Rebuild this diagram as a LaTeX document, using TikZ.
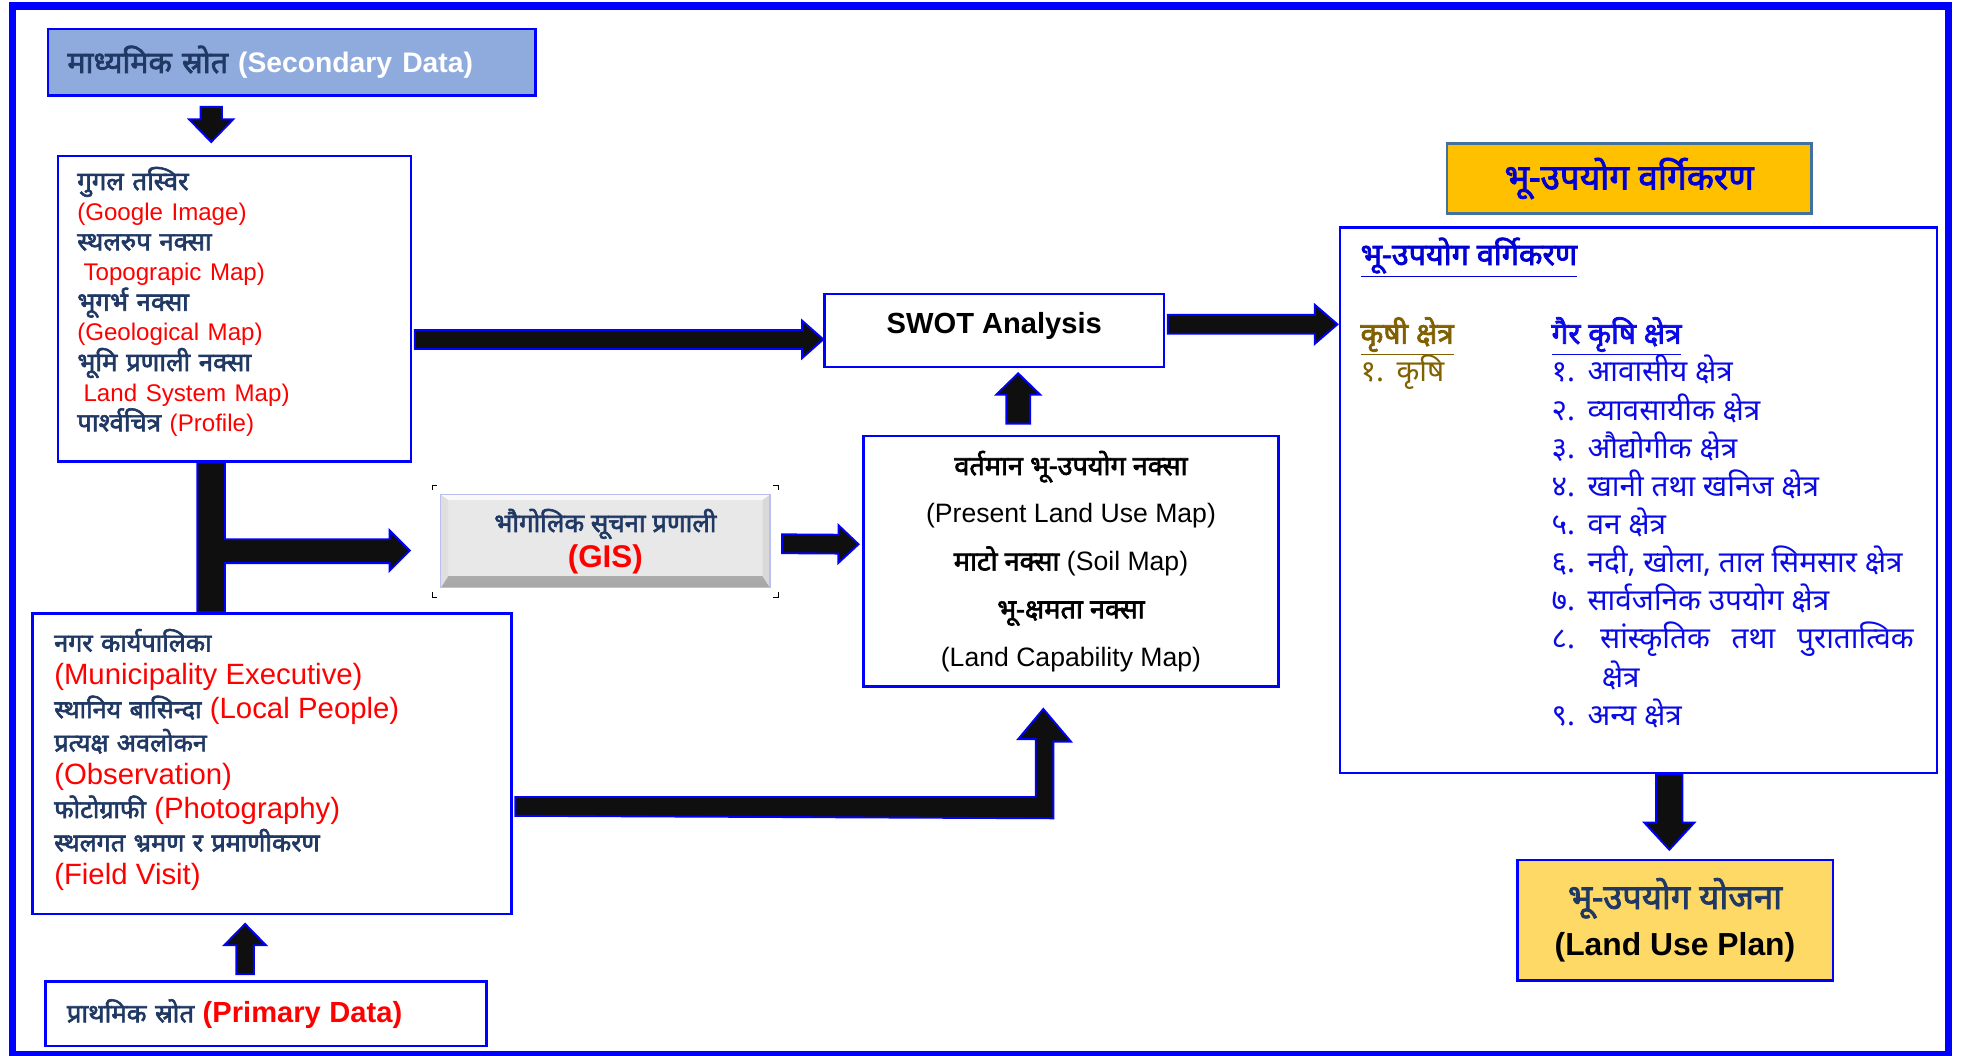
\documentclass[tikz,border=0pt]{standalone}
\usepackage{fontspec}
\setmainfont{Liberation Sans}
\newfontfamily\nep[Script=Devanagari]{Noto Sans}
\newfontfamily\nepbf[Script=Devanagari, FakeBold=2.4]{Noto Sans}
\usetikzlibrary{calc}

\definecolor{frameblue}{RGB}{0,0,255}
\definecolor{navytext}{RGB}{31,56,100}
\definecolor{secfill}{RGB}{143,170,220}
\definecolor{goldfill}{RGB}{255,192,0}
\definecolor{planfill}{RGB}{255,217,102}
\definecolor{steelline}{RGB}{65,113,156}
\definecolor{olivetext}{RGB}{128,96,0}
\definecolor{listblue}{RGB}{10,10,230}
\definecolor{titleblue}{RGB}{0,0,210}
\definecolor{arrowfill}{RGB}{15,15,15}
\definecolor{gisface}{RGB}{232,232,232}
\definecolor{gisedge}{RGB}{185,192,240}

\newcommand{\nepb}[1]{{\nepbf #1}}
\newcommand{\sz}[3]{{\fontsize{#1}{\baselineskip}\selectfont\color{#2}#3}}

% block arrow: start, tip, half shaft, half head, head length
\newcommand{\blockarrow}[5]{%
  \coordinate (ba-s) at #1;
  \coordinate (ba-e) at #2;
  \coordinate (ba-h) at ($(ba-e)!#5!(ba-s)$);
  \filldraw[thickarrow]
    ($(ba-s)!#3!90:(ba-e)$) -- ($(ba-h)!#3!90:(ba-e)$) -- ($(ba-h)!#4!90:(ba-e)$)
    -- (ba-e) -- ($(ba-h)!#4!-90:(ba-e)$) -- ($(ba-h)!#3!-90:(ba-e)$)
    -- ($(ba-s)!#3!-90:(ba-e)$) -- cycle;
}

\tikzset{
  box/.style={draw=frameblue, line width=1.2pt, fill=white, inner sep=0pt, anchor=north west},
  txt/.style 2 args={font={\fontsize{#1}{#2}\selectfont\lineskiplimit=-20pt}},
  thickarrow/.style={fill=arrowfill, draw=frameblue, line width=0.9pt, line join=miter},
  gisbox/.style={draw=gisedge, line width=0.7pt, fill=gisface, inner sep=0pt, anchor=north west,
    path picture={
      \shade[top color=gray!30, bottom color=gray!70]
        (path picture bounding box.south west) -- (path picture bounding box.south east)
        -- ([shift={(-3.5pt,5.5pt)}]path picture bounding box.south east)
        -- ([shift={(3.5pt,5.5pt)}]path picture bounding box.south west) -- cycle;
      \fill[white!75!gisface]
        (path picture bounding box.north west) -- (path picture bounding box.north east)
        -- ([shift={(-3.5pt,-2.5pt)}]path picture bounding box.north east)
        -- ([shift={(3.5pt,-2.5pt)}]path picture bounding box.north west) -- cycle;
      \fill[gray!25]
        (path picture bounding box.north west) -- ([shift={(3.5pt,-2.5pt)}]path picture bounding box.north west)
        -- ([shift={(3.5pt,5.5pt)}]path picture bounding box.south west) -- (path picture bounding box.south west) -- cycle;
      \fill[gray!30]
        (path picture bounding box.north east) -- ([shift={(-3.5pt,-2.5pt)}]path picture bounding box.north east)
        -- ([shift={(-3.5pt,5.5pt)}]path picture bounding box.south east) -- (path picture bounding box.south east) -- cycle;
    }},
  cornermark/.style={draw=black, line width=0.5pt}
}

\begin{document}
\begin{tikzpicture}[x=0.6pt, y=-0.6pt]
  \useasboundingbox (0,0) rectangle (1568,840);
  \draw[frameblue, line width=3.7pt] (10,4.5) rectangle (1550,839);

  % sources and inputs
  \node[box, name=sec, fill=secfill, minimum width=232.8pt, minimum height=31.8pt,
        text width=214pt, align=left, txt={14.5}{16}] at (37,22)
        {\nepb{\color{navytext}माध्यमिक स्रोत} \sz{13.5}{white}{\bfseries (Secondary Data)}};
  \node[box, name=goo, minimum width=168.6pt, minimum height=145.8pt, text width=150pt,
        align=left, text=navytext, txt={12.3}{14.4}] at (45,123) {%
        \nepb{गुगल तस्विर}\\
        \sz{11.5}{red}{(Google Image)}\\
        \nepb{स्थलरुप नक्सा}\\
        \sz{11.5}{red}{\hspace*{3pt}Topograpic Map)}\\
        \nepb{भूगर्भ नक्सा}\\
        \sz{11.5}{red}{(Geological Map)}\\
        \nepb{भूमि प्रणाली नक्सा}\\
        \sz{11.5}{red}{\hspace*{3pt}Land System Map)}\\
        \nepb{पार्श्वचित्र} \sz{11.5}{red}{(Profile)}\rule[-9pt]{0pt}{1pt}};
  \node[box, name=muni, minimum width=228.6pt, minimum height=143.4pt, text width=208pt,
        align=left, text=navytext, txt={12}{15.9}] at (25,487) {%
        \nepb{नगर कार्यपालिका}\\
        \sz{14}{red}{(Municipality Executive)}\\
        \nepb{स्थानिय बासिन्दा} \sz{14}{red}{(Local People)}\\
        \nepb{प्रत्यक्ष अवलोकन}\\
        \sz{14}{red}{(Observation)}\\
        \nepb{फोटोग्राफी} \sz{14}{red}{(Photography)}\\
        \nepb{स्थलगत भ्रमण र प्रमाणीकरण}\\
        \sz{14}{red}{(Field Visit)}\rule[-6.5pt]{0pt}{1pt}};
  \node[box, name=prim, minimum width=210.6pt, minimum height=30.6pt, text width=190pt,
        align=left, text=navytext, txt={12.3}{15}] at (35,780)
        {\nepb{प्राथमिक स्रोत} \sz{13.9}{red}{\bfseries (Primary Data)}};

  % analysis
  \node[gisbox, name=gis, minimum width=157.2pt, minimum height=44.4pt, align=center,
        text=navytext, txt={12.3}{16.8}] at (350,393)
        {\nepb{भौगोलिक सूचना प्रणाली}\\ \sz{15}{red}{\bfseries (GIS)}};
  \node[box, name=swot, minimum width=162pt, minimum height=34.8pt, text height=10pt,
        text depth=7.2pt, font=\fontsize{13.9}{16}\selectfont\bfseries] at (655,233) {SWOT Analysis};
  \node[box, name=maps, minimum width=198pt, minimum height=119.4pt, align=center,
        text=black, txt={12.9}{22.8}] at (686,346) {%
        \nepb{वर्तमान भू-उपयोग नक्सा}\\
        \sz{12.7}{black}{(Present Land Use Map)}\\
        \nepb{माटो नक्सा} \sz{12.7}{black}{(Soil Map)}\\
        \nepb{भू-क्षमता नक्सा}\\
        \sz{12.7}{black}{(Land Capability Map)}};

  % classification
  \node[box, name=ttl, draw=steelline, fill=goldfill, minimum width=174pt, minimum height=33.6pt,
        text=titleblue, txt={16.8}{18}] at (1150,113) {\nepb{भू-उपयोग वर्गिकरण}};
  \node[box, name=cls, minimum width=285pt, minimum height=260.4pt] at (1065,180) {};
  \node[anchor=west, name=clshead, inner sep=0pt, text=titleblue, txt={14.6}{16}]
        at ($(cls.north west)+(17,25)$) {\nepb{\underline{भू-उपयोग वर्गिकरण}}};
  \node[anchor=north west, name=agri, inner sep=0pt, align=left, text=olivetext,
        font={\nep\fontsize{14.2}{18.2}\selectfont\lineskiplimit=-20pt}]
        at ($(cls.north west)+(17,72)$) {%
        \nepb{\underline{कृषी क्षेत्र}}\\
        १.\hspace{6pt}कृषि};
  \node[anchor=north west, name=nonagri, inner sep=0pt, align=left, text=listblue,
        font={\nep\fontsize{14.2}{18.2}\selectfont\lineskiplimit=-20pt}]
        at ($(cls.north west)+(169,72)$) {%
        \nepb{\underline{गैर कृषि क्षेत्र}}\\
        १.\hspace{6pt}आवासीय क्षेत्र\\
        २.\hspace{6pt}व्यावसायीक क्षेत्र\\
        ३.\hspace{6pt}औद्योगीक क्षेत्र\\
        ४.\hspace{6pt}खानी तथा खनिज क्षेत्र\\
        ५.\hspace{6pt}वन क्षेत्र\\
        ६.\hspace{6pt}नदी, खोला, ताल सिमसार क्षेत्र\\
        ७.\hspace{6pt}सार्वजनिक उपयोग क्षेत्र\\
        \makebox[172.8pt][s]{८.\hspace{12pt}सांस्कृतिक तथा पुरातात्विक}\\
        \hspace*{24pt}क्षेत्र\\
        ९.\hspace{6pt}अन्य क्षेत्र};
  \node[box, name=plan, fill=planfill, minimum width=150.6pt, minimum height=57.6pt,
        align=center, text=navytext, txt={16.5}{22.2}] at (1206,683)
        {\nepb{भू-उपयोग योजना}\\ \sz{15.2}{black}{\bfseries (Land Use Plan)}};

  % corner marks round the GIS button
  \draw[cornermark] ($(gis.north west)+(-6,-3)$) -- ++(0,-4) -- ++(4,0);
  \draw[cornermark] ($(gis.north east)+(6,-3)$) -- ++(0,-4) -- ++(-4,0);
  \draw[cornermark] ($(gis.south west)+(-6,3)$) -- ++(0,4) -- ++(4,0);
  \draw[cornermark] ($(gis.south east)+(6,3)$) -- ++(0,4) -- ++(-4,0);

  % arrows
  \blockarrow{($(sec.south west)+(131,8)$)}{($(goo.north west)+(123,-10)$)}{5.1pt}{10.5pt}{10.8pt}
  \blockarrow{($(goo.north east)+(2,147)$)}{($(swot.north west)+(0,37)$)}{4.5pt}{9pt}{10.2pt}
  \blockarrow{($(swot.north east)+(2,25)$)}{($(cls.north west)+(-1,78)$)}{4.5pt}{9.3pt}{10.8pt}
  \blockarrow{($(maps.north west)+(124,-9)$)}{($(swot.south west)+(155,4)$)}{5.7pt}{10.5pt}{10.2pt}
  \blockarrow{($(gis.east)+(9,2)$)}{($(maps.west)+(-3,-13.5)$)}{4.5pt}{9pt}{9.6pt}
  \blockarrow{($(prim.north west)+(160,-5)$)}{($(muni.south west)+(170,7)$)}{4.2pt}{10pt}{10.2pt}
  \blockarrow{($(cls.south west)+(263,0)$)}{($(plan.north west)+(122,-7)$)}{6.3pt}{12pt}{13pt}

  % trunk between the two source boxes, with branch to GIS
  \filldraw[thickarrow] ($(goo.south west)+(112,0)$) -- ++(22,0) -- ++(0,61) -- ++(131,0)
    -- ++(0,-7) -- ++(16,16) -- ++(-16,16) -- ++(0,-6) -- ++(-131,0)
    -- ($(muni.north west)+(154,0)$) -- ++(-22,0) -- cycle;

  % elbow from field data to the maps
  \filldraw[thickarrow] ($(muni.north east)+(2,147)$) -- ++(414,0) -- ++(0,-46) -- ++(-14,0)
    -- ($(maps.south west)+(144,17)$) -- ++(22,26) -- ++(-14,0) -- ++(0,61)
    -- ($(muni.north east)+(2,162)$) -- cycle;
\end{tikzpicture}
\end{document}
